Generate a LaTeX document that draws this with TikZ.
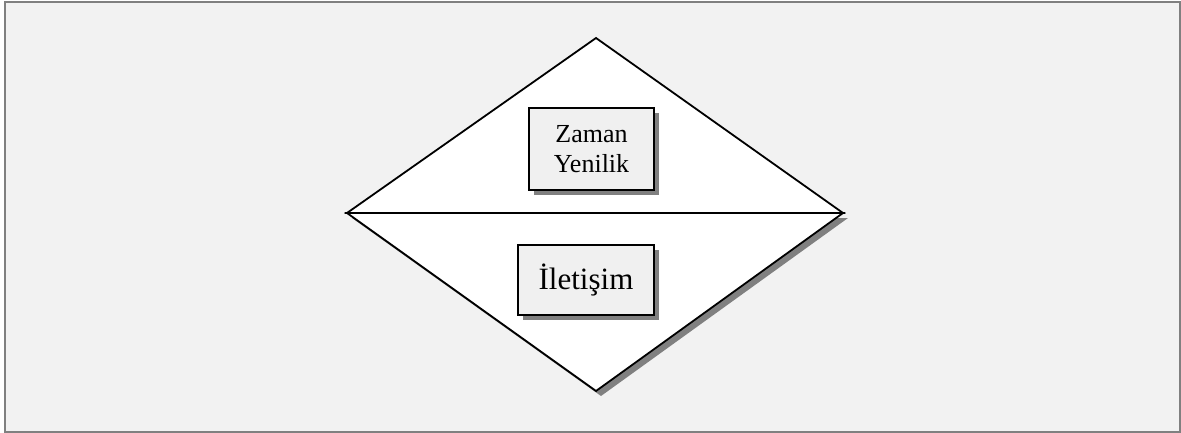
\documentclass[tikz,border=0pt]{standalone}
\usepackage{fontspec}
\setmainfont{Liberation Serif}
\usetikzlibrary{positioning, shadows}
\definecolor{panelBg}{RGB}{242, 242, 242}
\definecolor{panelEdge}{RGB}{128, 128, 128}
\definecolor{boxFill}{RGB}{240, 240, 240}
\definecolor{shadeGray}{RGB}{128, 128, 128}
\tikzset{
    factorbox/.style={draw=black, line width=1.6pt, fill=boxFill, align=center,
        inner sep=0pt,
        drop shadow={shadow xshift=5pt, shadow yshift=-5pt, fill=shadeGray, opacity=1}},
    edgeline/.style={draw=black, line width=1.8pt, line join=miter}
}

\begin{document}
\begin{tikzpicture}[x=1pt, y=-1pt]
    \useasboundingbox (0,0) rectangle (1181,433);
    % Panel
    \fill[white] (0,0) rectangle (1181,433);
    \draw[panelEdge, fill=panelBg, line width=2pt] (5,2.5) rectangle (1179.5,431.5);

    % Lower triangle with its shadow
    \fill[shadeGray] (352,218) -- (848,218) -- (601,396) -- cycle;
    \filldraw[edgeline, fill=white] (347,213) -- (843,213) -- (596,391) -- cycle;
    % Upper triangle
    \filldraw[edgeline, fill=white] (347,213) -- (596,38) -- (843,213) -- cycle;

    % Factor boxes
    \node[factorbox, minimum width=125pt, minimum height=82pt,
        font=\fontsize{26}{30}\selectfont] (zaman) at (591.5,149) {Zaman\\ Yenilik};
    \node[factorbox, minimum width=136pt, minimum height=70pt,
        font=\fontsize{31}{36}\selectfont] (iletisim) at (586,280) {İletişim};
\end{tikzpicture}
\end{document}
